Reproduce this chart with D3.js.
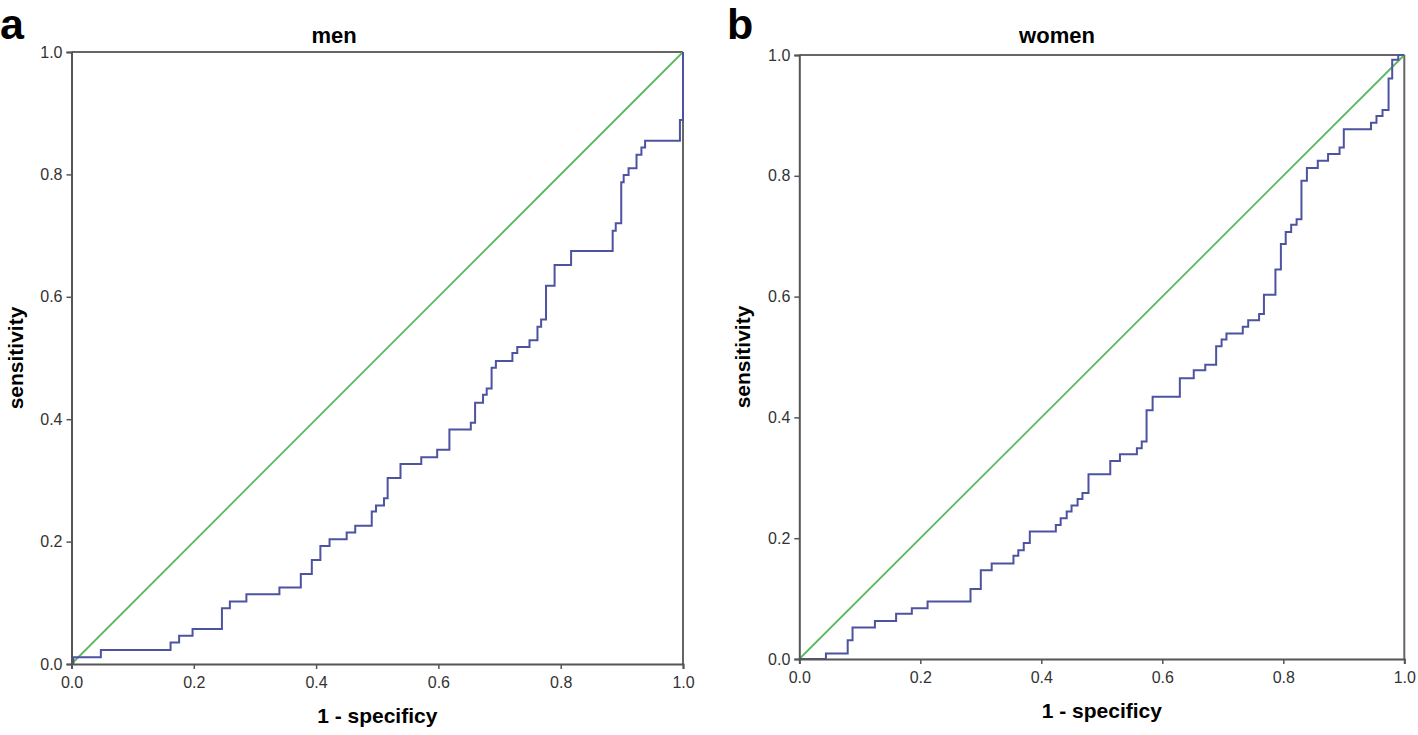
<!DOCTYPE html>
<html>
<head>
<meta charset="utf-8">
<script src="https://cdn.jsdelivr.net/npm/d3@7"></script>
<style>
  body { margin: 0; background: #fff; }
  text { font-family: "Liberation Sans", Arial, sans-serif; }
</style>
</head>
<body>
<div id="chart"></div>
<script>
// ROC step points: at each x (1 - specificity) the curve jumps up to y (sensitivity)
var menFpr = [0, 0.003, 0.048, 0.162, 0.176, 0.198, 0.246, 0.259, 0.286, 0.340, 0.375, 0.393,
  0.407, 0.422, 0.450, 0.464, 0.491, 0.498, 0.511, 0.517, 0.538, 0.572, 0.598, 0.618, 0.653,
  0.660, 0.673, 0.679, 0.687, 0.694, 0.721, 0.729, 0.749, 0.762, 0.768, 0.776, 0.790, 0.817,
  0.885, 0.890, 0.899, 0.903, 0.911, 0.924, 0.932, 0.938, 0.995, 1.0];
var menTpr = [0, 0.011, 0.023, 0.035, 0.046, 0.057, 0.091, 0.102, 0.114, 0.125, 0.147, 0.170,
  0.193, 0.204, 0.215, 0.226, 0.249, 0.259, 0.271, 0.304, 0.327, 0.338, 0.350, 0.383, 0.394,
  0.427, 0.440, 0.450, 0.484, 0.495, 0.508, 0.518, 0.529, 0.551, 0.563, 0.618, 0.652, 0.675,
  0.708, 0.720, 0.787, 0.799, 0.810, 0.832, 0.844, 0.855, 0.889, 1.0];

var womenFpr = [0, 0.044, 0.080, 0.088, 0.125, 0.160, 0.186, 0.212, 0.283, 0.300, 0.318, 0.354,
  0.362, 0.371, 0.381, 0.424, 0.432, 0.442, 0.450, 0.460, 0.468, 0.478, 0.514, 0.530, 0.558,
  0.566, 0.574, 0.584, 0.629, 0.652, 0.671, 0.689, 0.698, 0.706, 0.733, 0.742, 0.760, 0.768,
  0.787, 0.796, 0.804, 0.813, 0.822, 0.830, 0.839, 0.857, 0.874, 0.893, 0.900, 0.945, 0.954,
  0.964, 0.974, 0.980, 0.990, 1.0];
var womenTpr = [0, 0.009, 0.031, 0.052, 0.063, 0.075, 0.084, 0.095, 0.116, 0.147, 0.158, 0.171,
  0.180, 0.192, 0.211, 0.222, 0.233, 0.244, 0.254, 0.265, 0.275, 0.306, 0.328, 0.339, 0.349,
  0.360, 0.412, 0.434, 0.465, 0.478, 0.487, 0.518, 0.529, 0.539, 0.550, 0.561, 0.571, 0.603,
  0.645, 0.687, 0.707, 0.719, 0.728, 0.792, 0.813, 0.825, 0.836, 0.847, 0.877, 0.888, 0.899,
  0.909, 0.961, 0.992, 1.0, 1.0];

var tickValues = [0, 0.2, 0.4, 0.6, 0.8, 1.0];

var svgWidth = 1418;
var svgHeight = 735;

var svg = d3.select("#chart")
  .append("svg")
  .attr("width", svgWidth)
  .attr("height", svgHeight);

function drawPanel(opts) {
  var xScale = d3.scaleLinear().domain([0, 1]).range([opts.left, opts.right]);
  var yScale = d3.scaleLinear().domain([0, 1]).range([opts.bottom, opts.top]);

  var g = svg.append("g");

  // frame top / right
  g.append("line")
    .attr("x1", opts.left).attr("x2", opts.right)
    .attr("y1", opts.top).attr("y2", opts.top)
    .attr("stroke", "#666").attr("stroke-width", 2);
  g.append("line")
    .attr("x1", opts.right).attr("x2", opts.right)
    .attr("y1", opts.top).attr("y2", opts.bottom)
    .attr("stroke", "#666").attr("stroke-width", 2);

  // reference diagonal
  g.append("line")
    .attr("x1", xScale(0)).attr("y1", yScale(0))
    .attr("x2", xScale(1)).attr("y2", yScale(1))
    .attr("stroke", "#5cb85f").attr("stroke-width", 1.8);

  // roc curve
  var pts = opts.fpr.map(function(d, i) { return [d, opts.tpr[i]]; });
  var line = d3.line()
    .x(d => xScale(d[0]))
    .y(d => yScale(d[1]))
    .curve(d3.curveStepAfter);
  g.append("path")
    .datum(pts)
    .attr("d", line)
    .attr("fill", "none")
    .attr("stroke", "#4d53a0")
    .attr("stroke-width", 2);

  var fmt = d3.format(".1f");
  var bottomAxis = d3.axisBottom(xScale).tickValues(tickValues).tickFormat(fmt)
    .tickSizeOuter(0).tickSize(5).tickPadding(8);
  var leftAxis = d3.axisLeft(yScale).tickValues(tickValues).tickFormat(fmt)
    .tickSizeOuter(0).tickSize(5).tickPadding(4);

  var xa = g.append("g")
    .attr("transform", `translate(0, ${opts.bottom})`)
    .call(bottomAxis);
  var ya = g.append("g")
    .attr("transform", `translate(${opts.left}, 0)`)
    .call(leftAxis);

  [xa, ya].forEach(function(a) {
    a.select(".domain").attr("stroke", "#555").attr("stroke-width", 2);
    a.selectAll(".tick line").attr("stroke", "#555").attr("stroke-width", 1.5);
    a.selectAll(".tick text")
      .attr("fill", "#333")
      .style("font-size", "16px")
      .style("font-family", "'Liberation Sans', Arial, sans-serif");
  });

  // titles
  g.append("text")
    .attr("x", opts.titleX)
    .attr("y", 43)
    .attr("text-anchor", "middle")
    .style("font-size", "22px")
    .style("font-weight", "bold")
    .text(opts.title);

  g.append("text")
    .attr("x", (opts.left + opts.right) / 2)
    .attr("y", opts.bottom + 59)
    .attr("text-anchor", "middle")
    .style("font-size", "21px")
    .style("font-weight", "bold")
    .text("1 - specificy");

  g.append("text")
    .attr("transform", `translate(${opts.left - 49}, ${(opts.top + opts.bottom) / 2}) rotate(-90)`)
    .attr("text-anchor", "middle")
    .style("font-size", "21px")
    .style("font-weight", "bold")
    .text("sensitivity");

  // panel letter
  g.append("text")
    .attr("x", opts.letterX)
    .attr("y", 39)
    .style("font-size", "43px")
    .style("font-weight", "bold")
    .text(opts.letter);
}

drawPanel({
  left: 71.5, right: 683, top: 52, bottom: 664,
  fpr: menFpr, tpr: menTpr,
  title: "men", titleX: 334, letter: "a", letterX: 0
});

drawPanel({
  left: 799.3, right: 1404.3, top: 55, bottom: 659,
  fpr: womenFpr, tpr: womenTpr,
  title: "women", titleX: 1057, letter: "b", letterX: 727
});
</script>
</body>
</html>
